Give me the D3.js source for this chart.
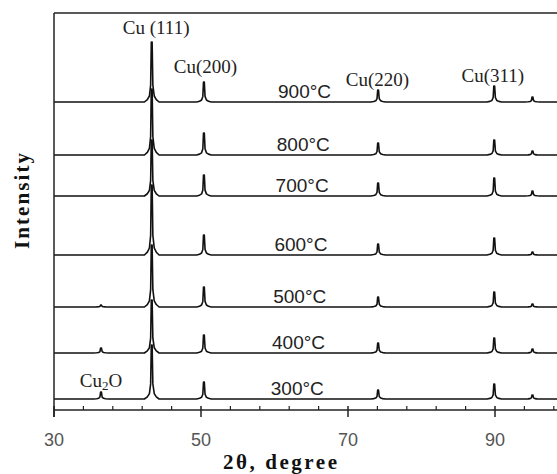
<!DOCTYPE html>
<html>
<head>
<meta charset="utf-8">
<script src="https://cdn.jsdelivr.net/npm/d3@7"></script>
<style>
  html, body { margin: 0; padding: 0; background: #fff; }
  svg { display: block; }
</style>
</head>
<body>
<svg id="chart" width="557" height="474"></svg>
<script>
// ---------------- data ----------------
const temperatures = ["900°C", "800°C", "700°C", "600°C", "500°C", "400°C", "300°C"];
// vertical stacking offset of each pattern (intensity units)
const offsets = [308, 255, 214, 155, 103, 57, 11];
// reflection positions (2θ, degree): Cu2O(111), Cu(111), Cu(200), Cu(220), Cu(311), Cu(222)
const peakPositions = [36.4, 43.3, 50.4, 74.1, 89.9, 95.1];
// peak heights per pattern (same order as peakPositions)
const h900 = [0, 60, 20, 12, 16, 5];
const h800 = [0, 66, 22, 12, 15, 4];
const h700 = [0, 56, 21, 13, 18, 5];
const h600 = [0, 70, 20, 11, 17, 3];
const h500 = [2, 62, 20, 10, 15, 3];
const h400 = [5, 53, 18, 10, 15, 4];
const h300 = [7, 54, 17, 9, 15, 4];
const peakHeights = [h900, h800, h700, h600, h500, h400, h300];
// measured peak profile (Δ2θ, fraction of peak height), Kα1/Kα2 split top
const profileDx = [-1.0, -0.6, -0.32, -0.15, -0.06, 0, 0.05, 0.15, 0.34, 0.62, 1.0];
const profileF  = [0, 0.04, 0.1, 0.28, 1, 0.8, 1, 0.28, 0.1, 0.04, 0];
// peak labels
const peakLabels = ["Cu (111)", "Cu(200)", "Cu(220)", "Cu(311)"];
const peakLabelX = [43.9, 50.6, 74.0, 89.7];
const peakLabelY = [376, 337, 324, 328];
const majorTicks = [30, 50, 70, 90];
const minorTicks = [34, 38, 42, 46, 54, 58, 62, 66, 74, 78, 82, 86, 94, 98];

// ---------------- layout ----------------
const svg = d3.select("#chart");
const x = d3.scaleLinear().domain([30, 100]).range([54, 568.5]);
const y = d3.scaleLinear().domain([0, 397]).range([410, 13]);

// patterns
const line = d3.line().x(d => x(d[0])).y(d => y(d[1]));
temperatures.forEach((t, i) => {
  const pts = [[30, 0]];
  peakPositions.forEach((p, k) => {
    const h = peakHeights[i][k];
    if (h <= 0) return;
    profileDx.forEach((dx, j) => pts.push([p + dx, h * profileF[j]]));
  });
  pts.push([100, 0]);
  pts.sort((a, b) => a[0] - b[0]);
  const data = pts.map(d => [d[0], d[1] + offsets[i]]);
  svg.append("path")
    .attr("d", line(data))
    .attr("fill", "none")
    .attr("stroke", "#111")
    .attr("stroke-width", 1.6)
    .attr("stroke-linejoin", "round");
  svg.append("text")
    .attr("x", 278 - i * 1.2)
    .attr("y", y(offsets[i]) - 4)
    .attr("font-family", "Liberation Sans, Arial, sans-serif")
    .attr("font-size", 19)
    .attr("fill", "#222")
    .text(t);
});

// frame: top & left
svg.append("line").attr("x1", 54).attr("x2", 557).attr("y1", 13).attr("y2", 13)
  .attr("stroke", "#222").attr("stroke-width", 1.5);
svg.append("line").attr("x1", 54).attr("x2", 54).attr("y1", 13).attr("y2", 417)
  .attr("stroke", "#222").attr("stroke-width", 1.5);

// bottom axis
svg.append("line").attr("x1", 54).attr("x2", 557).attr("y1", y(0)).attr("y2", y(0))
  .attr("stroke", "#222").attr("stroke-width", 1.5);
svg.selectAll(".minor").data(minorTicks).enter().append("line")
  .attr("x1", d => x(d)).attr("x2", d => x(d))
  .attr("y1", y(0)).attr("y2", y(0) - 4)
  .attr("stroke", "#222").attr("stroke-width", 1.2);
svg.selectAll(".major").data(majorTicks).enter().append("line")
  .attr("x1", d => x(d)).attr("x2", d => x(d))
  .attr("y1", y(0) - 4).attr("y2", y(0) + 7)
  .attr("stroke", "#222").attr("stroke-width", 1.5);
svg.selectAll(".tlab").data(majorTicks).enter().append("text")
  .attr("x", d => x(d)).attr("y", 446)
  .attr("text-anchor", "middle")
  .attr("font-family", "Liberation Sans, Arial, sans-serif")
  .attr("font-size", 18)
  .attr("fill", "#555")
  .text(d => d);

// peak labels
peakLabels.forEach((l, k) => {
  svg.append("text")
    .attr("x", x(peakLabelX[k])).attr("y", y(peakLabelY[k]))
    .attr("text-anchor", "middle")
    .attr("font-family", "Liberation Serif, Times New Roman, serif")
    .attr("font-size", 19)
    .attr("fill", "#222")
    .text(l);
});
// Cu2O label
const cu2o = svg.append("text")
  .attr("x", x(36.4)).attr("y", y(23))
  .attr("text-anchor", "middle")
  .attr("font-family", "Liberation Serif, Times New Roman, serif")
  .attr("font-size", 19)
  .attr("fill", "#222");
cu2o.append("tspan").text("Cu");
cu2o.append("tspan").attr("font-size", 13).attr("dy", 3).text("2");
cu2o.append("tspan").attr("dy", -3).text("O");

// axis titles
svg.append("text")
  .attr("x", 280).attr("y", 469)
  .attr("text-anchor", "middle")
  .attr("font-family", "Liberation Serif, Times New Roman, serif")
  .attr("font-weight", "bold")
  .attr("font-size", 21)
  .attr("textLength", 114)
  .attr("fill", "#111")
  .text("2θ, degree");
svg.append("text")
  .attr("transform", "translate(29,201) rotate(-90)")
  .attr("text-anchor", "middle")
  .attr("font-family", "Liberation Serif, Times New Roman, serif")
  .attr("font-weight", "bold")
  .attr("font-size", 21)
  .attr("textLength", 96)
  .attr("fill", "#111")
  .text("Intensity");
</script>
</body>
</html>
